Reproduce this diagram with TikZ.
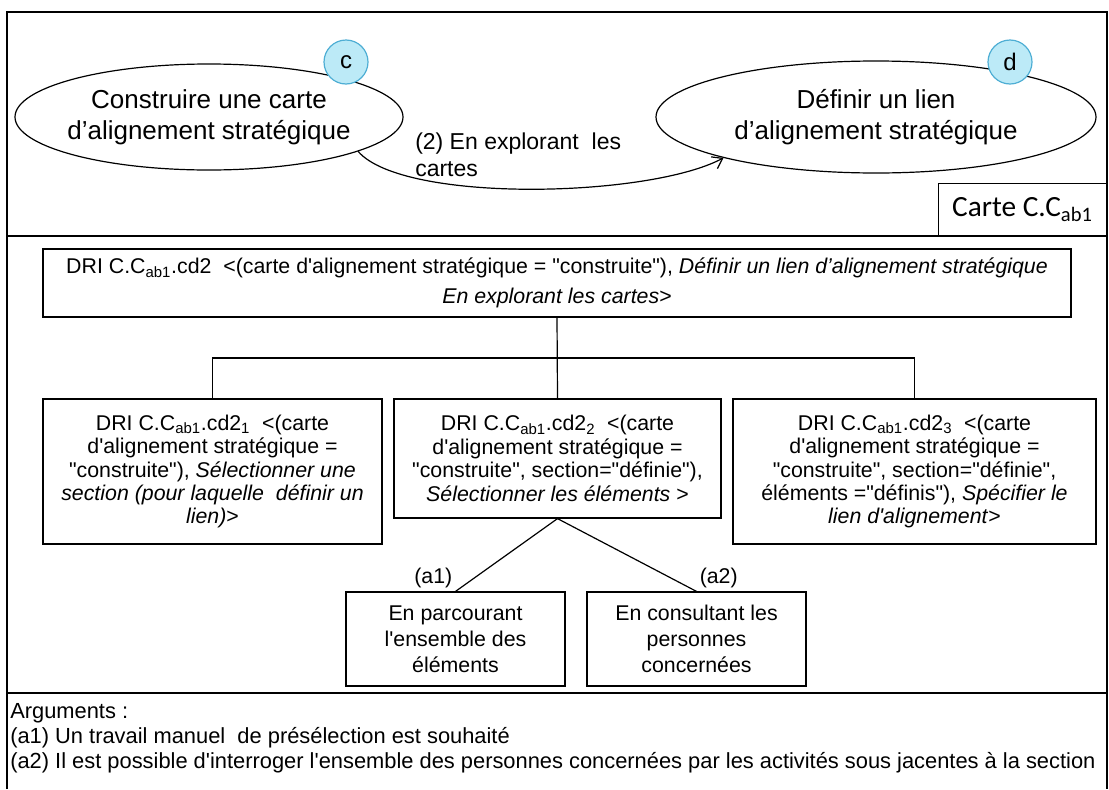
\documentclass[tikz,border=0pt]{standalone}
\usepackage{fontspec}
\setmainfont{Liberation Sans}[Ligatures=TeXOff]
\newfontfamily\calibri{Carlito}
\usetikzlibrary{shapes.geometric,arrows.meta,positioning}

\definecolor{bulle}{RGB}{188,234,247}
\definecolor{bullebord}{RGB}{78,174,212}
\newcommand{\px}{0.75pt}

\tikzset{
  cadre/.style={line width=1.5pt},
  etat/.style={ellipse, draw, line width=0.9pt, inner sep=0pt},
  etattexte/.style={align=center, inner sep=0pt, font=\fontsize{19.5}{23}\selectfont},
  marque/.style={circle, draw=bullebord, fill=bulle, line width=0.9pt,
    minimum size=44*\px, inner sep=0pt, font=\fontsize{18}{18}\selectfont},
  dribox/.style={draw, line width=0.9pt, inner sep=0pt, align=center,
    font=\fontsize{16}{17.6}\selectfont},
  lien/.style={line width=0.9pt},
  fleche/.style={line width=0.9pt, -{Straight Barb[length=7pt,width=10pt]}},
}

\begin{document}
\begin{tikzpicture}[x=\px, y=-\px]
  \useasboundingbox (0,0) rectangle (1109,789);

  % cadre et separations
  \draw[cadre] (7,789) -- (7,12) -- (1107,12) -- (1107,789);
  \draw[cadre] (7,236) -- (1107,236);
  \draw[cadre] (7,693) -- (1107,693);

  % carte
  \node[etat, minimum width=388*\px, minimum height=106*\px] (construire) at (209,117) {};
  \node[etattexte] (construiretxt) at (construire) {Construire une carte\\d’alignement stratégique};
  \node[etat, minimum width=440*\px, minimum height=112*\px] (definir) at (876,117) {};
  \node[etattexte] (definirtxt) at (definir) {Définir un lien\\d’alignement stratégique};
  \node[marque] (c) at (346,62) {c};
  \node[marque] (d) at (1010,62) {d};

  \draw[fleche] (construire.-13) .. controls +(45,52) and +(-75,40) .. (definir.195);
  \node[anchor=west, align=left, inner sep=0pt, font=\fontsize{17.25}{20.25}\selectfont]
    (explo) at (415,155) {(2) En explorant\ \ les\\cartes};

  \node[draw, line width=0.9pt, minimum width=168*\px, minimum height=52*\px,
    anchor=south east, font=\calibri\fontsize{22}{22}\selectfont]
    (carte) at (1107,236) {Carte C.C\textsubscript{ab1}};

  % DRI
  \node[dribox, minimum width=1028*\px, minimum height=68*\px, font=\fontsize{16}{22}\selectfont]
    (dri) at (557,283) {DRI C.C\textsubscript{ab1}.cd2\ \ <(carte d'alignement stratégique = "construite"), \textit{Définir un lien d’alignement stratégique}\\\textit{En explorant les cartes}>};

  \node[dribox, minimum width=339*\px, minimum height=145*\px] (dri1) at (212.5,471.5)
    {DRI C.C\textsubscript{ab1}.cd2\textsubscript{1}\ \ <(carte\\d'alignement stratégique =\\"construite"), \textit{Sélectionner une}\\\textit{section (pour laquelle\ \ définir un}\\\textit{lien)}>};
  \node[dribox, minimum width=327*\px, minimum height=119*\px] (dri2) at (557.5,458.5)
    {DRI C.C\textsubscript{ab1}.cd2\textsubscript{2}\ \ <(carte\\d'alignement stratégique =\\"construite", section="définie"),\\\textit{Sélectionner les éléments} >};
  \node[dribox, minimum width=363*\px, minimum height=145*\px] (dri3) at (914.5,471.5)
    {DRI C.C\textsubscript{ab1}.cd2\textsubscript{3}\ \ <(carte\\d'alignement stratégique =\\"construite", section="définie",\\éléments ="définis"), \textit{Spécifier le}\\\textit{lien d'alignement}>};

  \node[dribox, minimum width=219*\px, minimum height=94*\px, font=\fontsize{16}{19.5}\selectfont]
    (parcours) at (455.5,639) {En parcourant\\l'ensemble des\\éléments};
  \node[dribox, minimum width=219*\px, minimum height=94*\px, font=\fontsize{16}{19.5}\selectfont]
    (consult) at (696.5,639) {En consultant les\\personnes\\concernées};

  \coordinate (bus) at (557.5,358);
  \draw[lien] (dri.south) -- (dri2.north);
  \draw[lien] (dri1.north) |- (bus) -| (dri3.north);
  \draw[lien] (dri2.south) -- (parcours.north)
    node[at end, anchor=south east, inner sep=2pt, font=\fontsize{16}{16}\selectfont] (a1) {(a1)};
  \draw[lien] (dri2.south) -- (consult.north)
    node[at end, anchor=south west, inner sep=2pt, font=\fontsize{16}{16}\selectfont] (a2) {(a2)};

  % arguments
  \node[anchor=north west, align=left, inner sep=0pt, font=\fontsize{16.4}{18.9}\selectfont]
    (args) at (10,703) {Arguments :\\(a1) Un travail manuel\ \ de présélection est souhaité\\(a2) Il est possible d'interroger l'ensemble des personnes concernées par les activités sous jacentes à la section};
\end{tikzpicture}
\end{document}
